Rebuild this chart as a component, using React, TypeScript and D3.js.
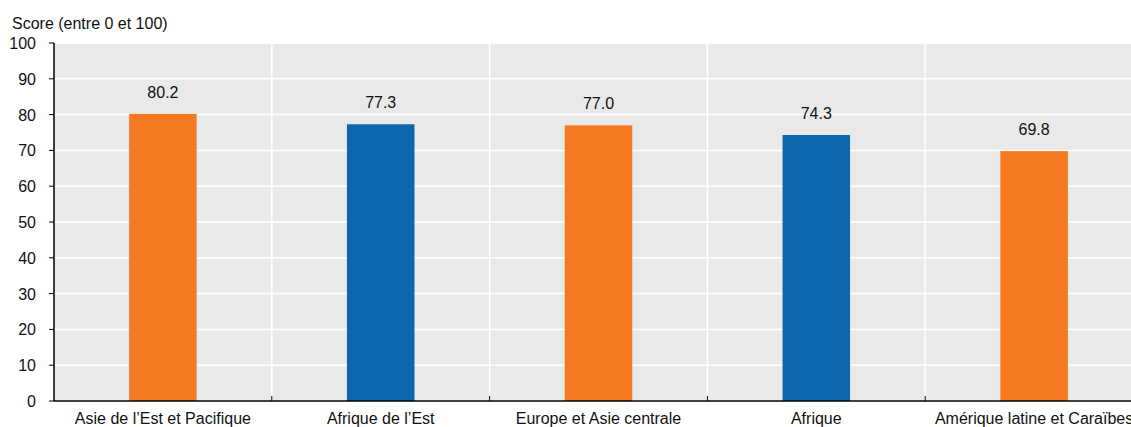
import React from "react";
import * as d3 from "d3";

const categories = [
  "Asie de l\u2019Est et Pacifique",
  "Afrique de l\u2019Est",
  "Europe et Asie centrale",
  "Afrique",
  "Am\u00e9rique latine et Cara\u00efbes",
];
const values = [80.2, 77.3, 77.0, 74.3, 69.8];
const colorKeys = ["o", "b", "o", "b", "o"];
const yTicks = [0, 10, 20, 30, 40, 50, 60, 70, 80, 90, 100];
const yTitle = "Score (entre 0 et 100)";

const W = 1131;
const H = 427;
const left = 54;
const right = 1143;
const top = 43;
const bottom = 401;
const FONT = "'Liberation Sans', Arial, Helvetica, sans-serif";
const colors: Record<string, string> = { o: "#f47920", b: "#0d67b0" };

export default function App() {
  const x = d3.scaleBand<string>().domain(categories).range([left, right]).padding(0);
  const y = d3.scaleLinear().domain([0, 100]).range([bottom, top]);
  const bw = x.bandwidth() * 0.31;
  const seps = categories.slice(1).map((c) => x(c) as number);

  return (
    <svg
      width={W}
      height={H}
      style={{ position: "absolute", left: 0, top: 0, background: "#fff" }}
      fontFamily={FONT}
    >
      <rect x={left} y={top} width={W - left} height={bottom - top} fill="#e9e9e9" />
      {yTicks.map((t) => (
        <line key={"g" + t} x1={left} x2={W} y1={y(t)} y2={y(t)} stroke="#fff" strokeWidth={1.5} />
      ))}
      {seps.map((s, i) => (
        <line key={"s" + i} x1={s} x2={s} y1={top} y2={bottom} stroke="#fff" strokeWidth={1.5} />
      ))}
      {categories.map((c, i) => {
        const cx = (x(c) as number) + x.bandwidth() / 2;
        return (
          <g key={c}>
            <rect x={cx - bw / 2} y={y(values[i])} width={bw} height={bottom - y(values[i])} fill={colors[colorKeys[i]]} />
            <text x={cx} y={y(values[i]) - 16} textAnchor="middle" fontSize={16} fill="#111">
              {values[i].toFixed(1)}
            </text>
            <text x={cx} y={424} textAnchor="middle" fontSize={16} fill="#111">
              {c}
            </text>
          </g>
        );
      })}
      {seps.map((s, i) => (
        <line key={"t" + i} x1={s} x2={s} y1={bottom} y2={bottom - 5} stroke="#000" strokeWidth={1} />
      ))}
      <line x1={left} x2={W} y1={bottom} y2={bottom} stroke="#000" strokeWidth={1.5} />
      <line x1={left} x2={left} y1={top} y2={bottom} stroke="#000" strokeWidth={1.5} />
      {yTicks.map((t) => (
        <g key={"y" + t}>
          <line x1={left - 5} x2={left} y1={y(t)} y2={y(t)} stroke="#000" strokeWidth={1} />
          <text x={36} y={y(t) + 6} textAnchor="end" fontSize={16} fill="#111">
            {t}
          </text>
        </g>
      ))}
      <text x={12} y={29} fontSize={16} fill="#111">
        {yTitle}
      </text>
    </svg>
  );
}
